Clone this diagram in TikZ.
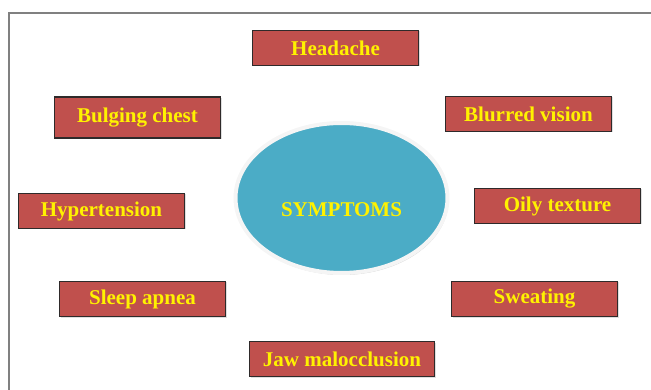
\documentclass[tikz,border=0pt]{standalone}
\usepackage{fontspec}
\setmainfont{Liberation Serif}
\usetikzlibrary{shapes.geometric,shadows}

\definecolor{boxred}{HTML}{C0504D}
\definecolor{coreblue}{HTML}{4BACC6}
\definecolor{boxline}{HTML}{2E2A2A}

\begin{document}
\begin{tikzpicture}[
        x=1pt, y=-1pt,
        sym/.style={draw=boxline, line width=1.2pt, fill=boxred, minimum width=166pt, minimum height=35pt,
            inner sep=0pt, text=yellow, font=\fontsize{21}{24}\selectfont\bfseries,
            drop shadow={opacity=0.25, shadow xshift=1pt, shadow yshift=-1pt}},
        core/.style={ellipse, draw=white!92!gray, line width=4pt, fill=coreblue, minimum width=212pt, minimum height=150pt,
            drop shadow={opacity=0.35, shadow xshift=1pt, shadow yshift=-2pt}}
    ]
        \useasboundingbox (0,0) rectangle (651,390);
        % Frame
        \draw[gray, line width=1.3pt] (9,390) -- (9,13) -- (651,13);

        % Centre
        \node[core] (symp) at (341.5,198) {};
        \node[text=yellow, font=\fontsize{21}{24}\selectfont\bfseries, inner sep=0pt] (symptxt) at ([yshift=-11.5pt]symp.center) {SYMPTOMS};

        % Symptom boxes
        \node[sym] (head) at (335.5,48) {Headache};
        \node[sym, minimum height=41pt] (chest) at (137.5,117.5) {Bulging chest};
        \node[sym] (vision) at (528.5,114) {Blurred vision};
        \node[sym] (hyper) at (101.5,211) {Hypertension};
        \node[sym] (oily) at (557.5,206) {Oily texture};
        \node[sym] (apnea) at (142.5,299) {Sleep apnea};
        \node[sym] (sweat) at (534.5,299) {Sweating};
        \node[sym, minimum width=185pt] (jaw) at (342,359) {Jaw malocclusion};
    \end{tikzpicture}
\end{document}
